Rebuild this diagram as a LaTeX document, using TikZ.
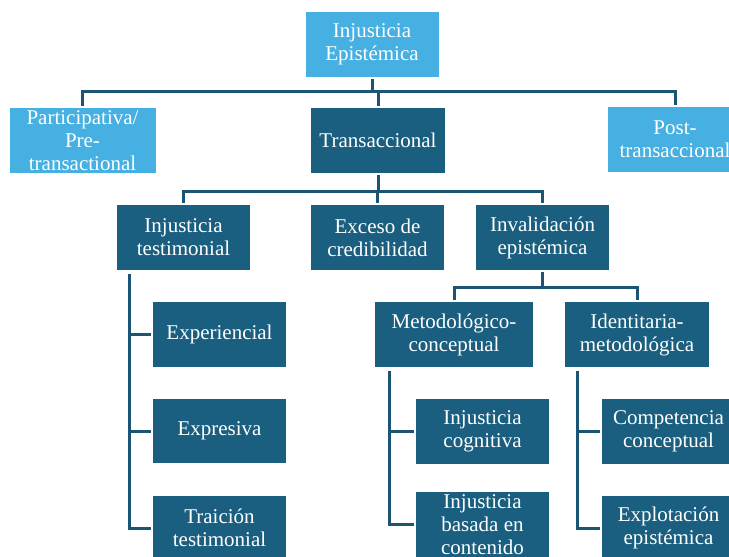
\documentclass[tikz,border=0pt]{standalone}
\usepackage{fontspec}
\setmainfont{LiberationSerif}[Extension=.ttf, UprightFont=*-Regular, BoldFont=*-Bold,
  ItalicFont=*-Italic, BoldItalicFont=*-BoldItalic]
\usetikzlibrary{calc}
\definecolor{lightbox}{HTML}{45B0E1}
\definecolor{darkbox}{HTML}{1A5F80}
\definecolor{linkcol}{HTML}{1C5573}
\begin{document}
\begin{tikzpicture}[x=1pt,y=-1pt,
  box/.style={fill=darkbox, text=white, align=center, inner sep=0pt, outer sep=2pt,
    minimum width=133pt, minimum height=65pt, font=\rmfamily\fontsize{21}{23}\selectfont},
  lightb/.style={box, fill=lightbox},
  link/.style={draw=linkcol, line width=3pt}]
\useasboundingbox (0,0) rectangle (729,557);
\clip (0,0) rectangle (729,557);

% top levels
\node[lightb] (root) at (372,44.5) {Injusticia\\Epistémica};
\node[lightb, minimum width=146pt] (part) at (82.5,140.5) {Participativa/\\Pre-\\transactional};
\node[box, minimum width=134pt] (trans) at (378,140.5) {Transaccional};
\node[lightb, minimum width=134pt] (post) at (675,139.5) {Post-\\transaccional};

% transactional branch
\node[box] (testi) at (183.5,237.5) {Injusticia\\testimonial};
\node[box] (exceso) at (377.5,237.5) {Exceso de\\credibilidad};
\node[box] (inval) at (542.5,237.5) {Invalidación\\epistémica};

\node[box, minimum width=158pt] (metod) at (454,334.5) {Metodológico-\\conceptual};
\node[box, minimum width=144pt] (ident) at (637,334.5) {Identitaria-\\metodológica};

% testimonial sub-types
\node[box] (exper) at (219.5,334.5) {Experiencial};
\node[box, minimum height=64pt] (expres) at (219.5,431) {Expresiva};
\node[box] (traic) at (219.5,528) {Traición\\testimonial};

% methodological / identity sub-types
\node[box] (cogn) at (482.5,431) {Injusticia\\cognitiva};
\node[box] (basada) at (482.5,524.5) {Injusticia\\basada en\\contenido};
\node[box] (comp) at (668.5,431) {Competencia\\conceptual};
\node[box] (explot) at (668.5,528) {Explotación\\epistémica};

% connectors: first level
\coordinate (j1) at ($(root.south)+(0,12)$);
\draw[link] (root.south) -- (j1);
\draw[link] (part.north) |- (j1) -| (post.north);
\draw[link] (trans.north) -- (trans.north |- j1);

% connectors: second level
\coordinate (j2) at ($(trans.south)+(0,16)$);
\draw[link] (trans.south) -- (j2);
\draw[link] (testi.north) |- (j2) -| (inval.north);
\draw[link] (exceso.north) -- (exceso.north |- j2);

% connectors: invalidation split
\coordinate (j3) at ($(inval.south)+(0,15)$);
\draw[link] (inval.south) -- (j3);
\draw[link] (metod.north) |- (j3) -| (ident.north);

% side spines
\coordinate (s1) at ($(testi.south west)+(14,2)$);
\draw[link] (s1) |- (traic.west);
\draw[link] (exper.west) -- (exper.west -| s1);
\draw[link] (expres.west) -- (expres.west -| s1);

\coordinate (s2) at ($(metod.south west)+(16,2)$);
\draw[link] (s2) |- (basada.west);
\draw[link] (cogn.west) -- (cogn.west -| s2);

\coordinate (s3) at ($(ident.south west)+(14.5,2)$);
\draw[link] (s3) |- (explot.west);
\draw[link] (comp.west) -- (comp.west -| s3);
\end{tikzpicture}
\end{document}
